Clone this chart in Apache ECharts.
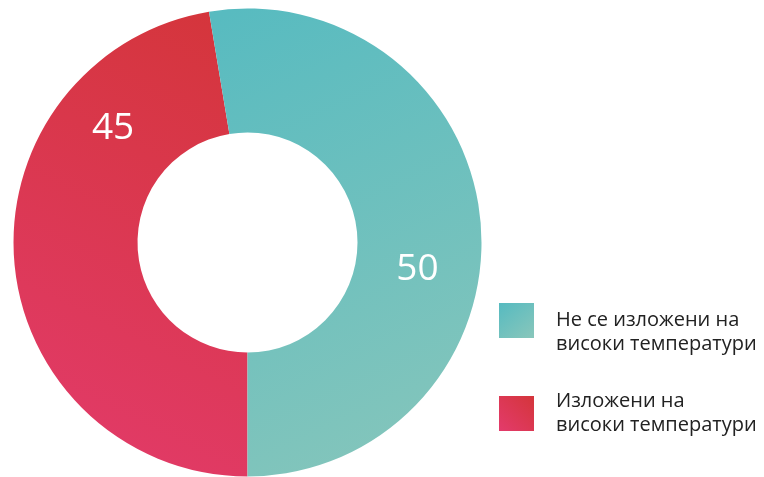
<!DOCTYPE html>
<html><head><meta charset="utf-8">
<script src="https://cdn.jsdelivr.net/npm/echarts@6/dist/echarts.min.js"></script>
<style>html,body{margin:0;padding:0;background:#fff}#c{width:764px;height:477px}</style>
</head><body><div id="c"></div>
<script>
// Data
const categories = ['Не се изложени на\nвисоки температури', 'Изложени на\nвисоки температури'];
const values = [50, 45];

// Styling (not data)
const gradients = [
  new echarts.graphic.LinearGradient(0.1, 0, 0.9, 1, [{offset:0,color:'#58bbc0'},{offset:1,color:'#87c6bb'}]),
  new echarts.graphic.LinearGradient(1, 0, 0, 1, [{offset:0,color:'#d4353a'},{offset:1,color:'#e33b6c'}])
];
const labelShift = [{dx:-4.5, dy:41}, {dx:40, dy:-128}];

const chart = echarts.init(document.getElementById('c'));
// draw red first from the bottom clockwise, teal after
const order = [1, 0];
chart.setOption({
  animation:false,
  backgroundColor:'#fff',
  legend:{
    orient:'vertical', left:499, top:284.5, padding:0,
    itemWidth:35, itemHeight:35, itemGap:33,
    icon:'rect',
    data: categories,
    formatter: function(n){ return n === categories[0] ? '\n' + n : n; },
    textStyle:{fontFamily:'Open Sans', fontSize:20, lineHeight:24, color:'#222', padding:[0,0,0,17]},
    selectedMode:false
  },
  series:[{
    type:'pie',
    center:[247.5,242.5],
    radius:[110,234],
    startAngle:-90,
    clockwise:true,
    silent:true,
    label:{show:true, position:'inside', color:'#fff', fontSize:37, fontFamily:'Open Sans', formatter:'{c}'},
    labelLine:{show:false},
    labelLayout:function(p){ const idx = order[p.dataIndex]; return labelShift[idx]; },
    data: order.map(i=>({name:categories[i], value:values[i], itemStyle:{color:gradients[i]}}))
  }]
});
</script></body></html>
